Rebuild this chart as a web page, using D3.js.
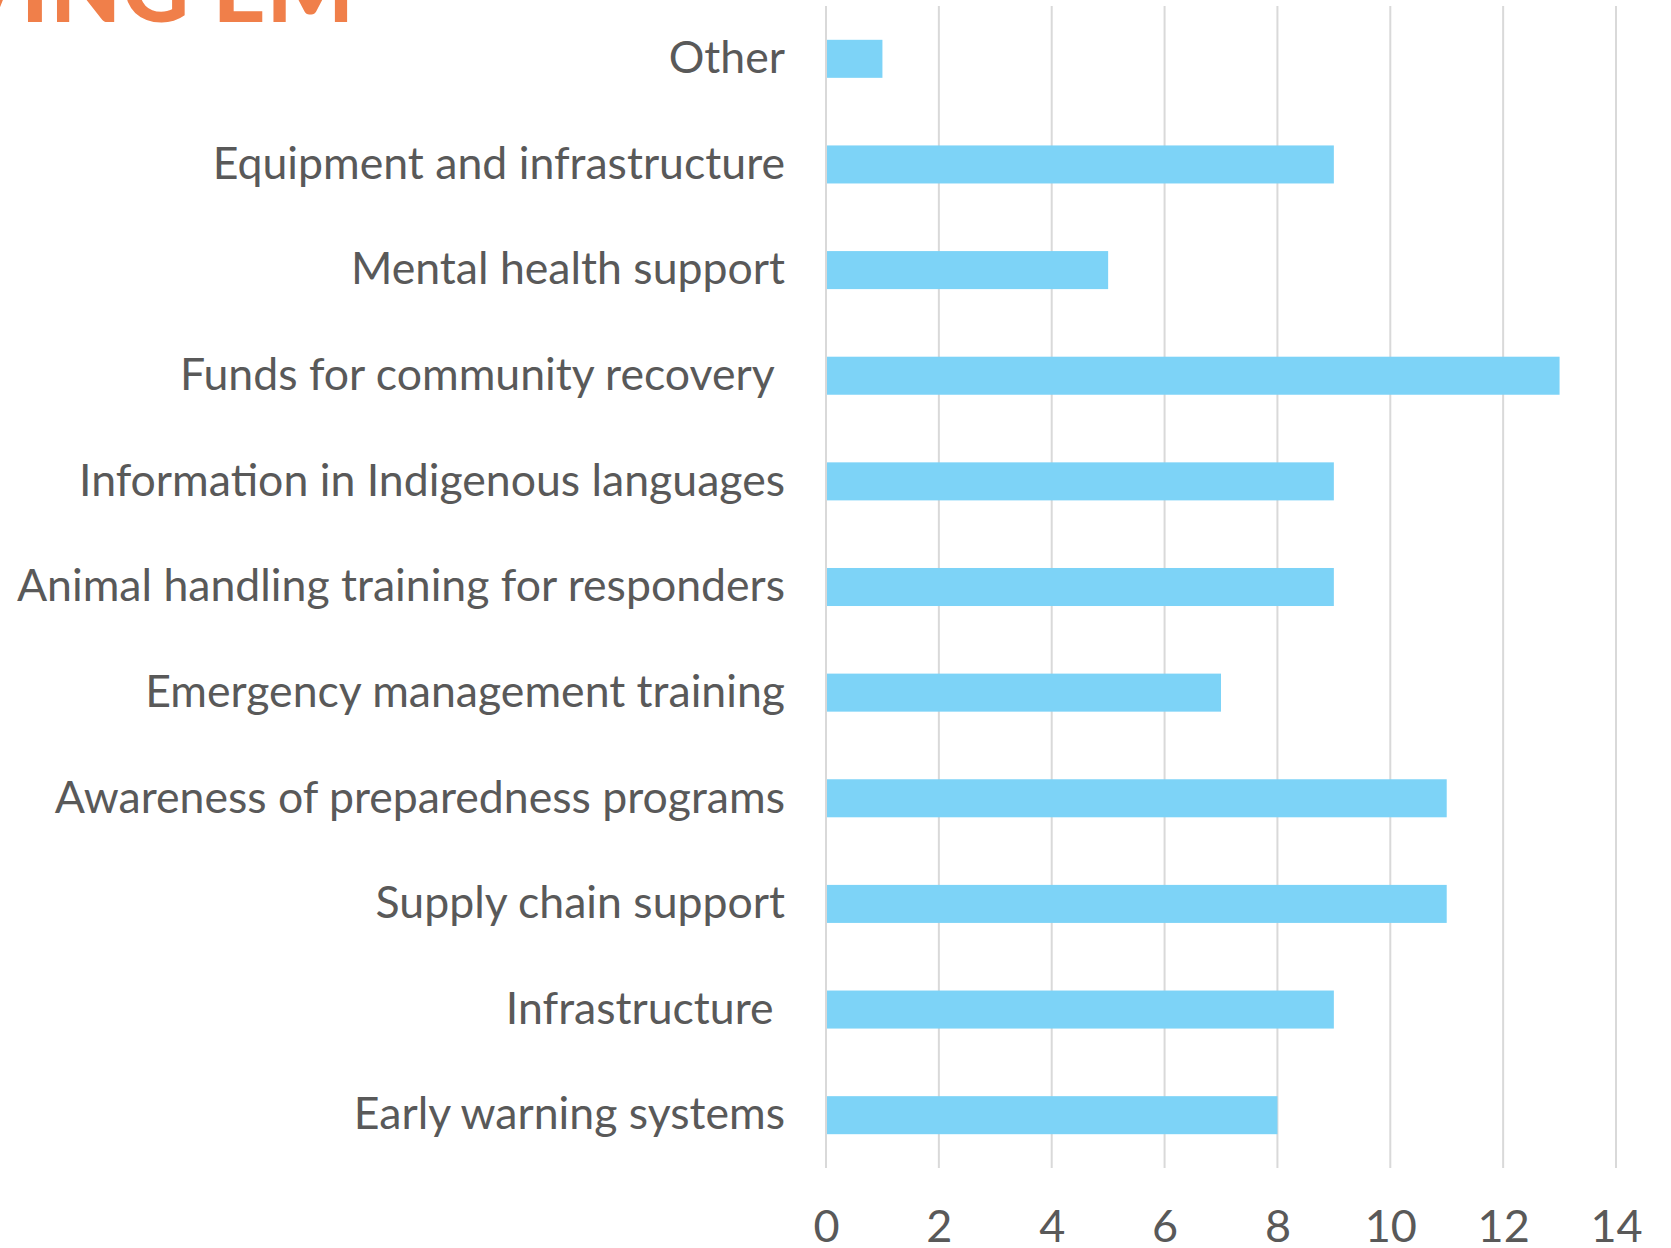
<!DOCTYPE html>
<html>
<head>
<meta charset="utf-8">
<script src="https://cdn.jsdelivr.net/npm/d3@7"></script>
<style>
  body { margin: 0; background: #fff; }
  svg { display: block; }
  text { white-space: pre; }
</style>
</head>
<body>
<div id="chart"></div>
<script>
var width = 1671
var height = 1248
var plot = {top: 6, bottom: 1168, left: 826, right: 1616}

// categories top to bottom
var categories = [
  "Other",
  "Equipment and infrastructure",
  "Mental health support",
  "Funds for community recovery ",
  "Information in Indigenous languages",
  "Animal handling training for responders",
  "Emergency management training",
  "Awareness of preparedness programs",
  "Supply chain support",
  "Infrastructure ",
  "Early warning systems"
]
var counts = [1, 9, 5, 13, 9, 9, 7, 11, 11, 9, 8]
var xTicks = [0, 2, 4, 6, 8, 10, 12, 14]
var xDomain = [0, 14]

var barColor = "#7dd3f7"
var gridColor = "#d9d9d9"
var textColor = "#595959"
var fontFamily = "Lato, 'Open Sans', sans-serif"

var svg = d3.select("#chart")
    .append("svg")
    .attr("width", width)
    .attr("height", height)

// clipped slide title peeking in at the top left
svg.append("text")
    .attr("x", 355)
    .attr("y", 22)
    .attr("text-anchor", "end")
    .attr("font-family", fontFamily)
    .attr("font-weight", 900)
    .attr("font-size", 92)
    .attr("letter-spacing", 1)
    .attr("fill", "#f07f4a")
    .text("PROVING EM")

var x = d3.scaleLinear().domain(xDomain).range([plot.left, plot.right])
var y = d3.scaleBand()
    .domain(categories)
    .range([plot.top, plot.bottom])
    .paddingInner(0.64)
    .paddingOuter(0.32)

// vertical gridlines
svg.append("g")
    .selectAll("line")
    .data(xTicks)
    .enter()
    .append("line")
    .attr("x1", function(d) { return x(d) })
    .attr("x2", function(d) { return x(d) })
    .attr("y1", plot.top)
    .attr("y2", plot.bottom)
    .attr("stroke", gridColor)
    .attr("stroke-width", 2)

// bars
svg.append("g")
    .selectAll("rect")
    .data(counts)
    .enter()
    .append("rect")
    .attr("x", x(0) + 1)
    .attr("y", function(d, i) { return y(categories[i]) })
    .attr("width", function(d) { return x(d) - x(0) - 1 })
    .attr("height", y.bandwidth())
    .attr("fill", barColor)

// category labels
var yAxis = d3.axisLeft(y).tickSize(0).tickPadding(41)
var yg = svg.append("g")
    .attr("transform", "translate(" + plot.left + ",0)")
    .call(yAxis)
yg.select(".domain").remove()
yg.selectAll("text")
    .attr("font-family", fontFamily)
    .attr("font-size", 44.6)
    .attr("fill", textColor)

// value axis labels
var xAxis = d3.axisBottom(x).tickValues(xTicks).tickSize(0).tickPadding(0)
var xg = svg.append("g")
    .attr("transform", "translate(0,1210)")
    .call(xAxis)
xg.select(".domain").remove()
xg.selectAll("text")
    .attr("font-family", fontFamily)
    .attr("font-size", 45)
    .attr("fill", textColor)
</script>
</body>
</html>
